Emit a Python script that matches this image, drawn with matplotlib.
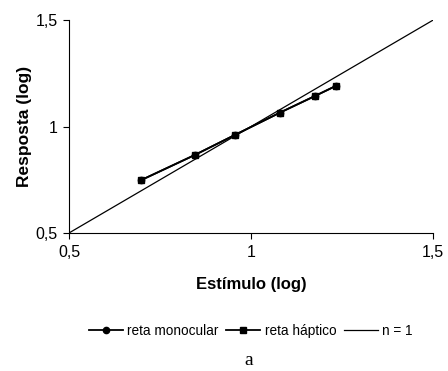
import numpy as np
import matplotlib
matplotlib.use('Agg')
from matplotlib import pyplot as plt

plt.rcParams['font.family'] = ['Liberation Sans', 'DejaVu Sans']

# data
estimulo = [0.699, 0.845, 0.955, 1.079, 1.175, 1.232]
resp_monocular = [0.749, 0.866, 0.960, 1.065, 1.143, 1.190]
resp_haptico = [0.749, 0.866, 0.960, 1.065, 1.143, 1.190]
ident = [0.5, 1.5]
ticks = [0.5, 1, 1.5]
tick_labels = ['0,5', '1', '1,5']

fig = plt.figure(figsize=(4.48, 3.71), dpi=100)
ax = fig.add_axes([0.154, 0.372, 0.813, 0.574])

ax.plot(estimulo, resp_monocular, '-o', color='black', lw=1.3, ms=4.5, label='reta monocular')
ax.plot(estimulo, resp_haptico, '-s', color='black', lw=1.3, ms=5, label='reta háptico')
ax.plot(ident, ident, '-', color='black', lw=0.9, label='n = 1')

ax.set_xlim(0.5, 1.5)
ax.set_ylim(0.5, 1.5)
ax.set_xticks(ticks)
ax.set_xticklabels(tick_labels)
ax.set_yticks(ticks)
ax.set_yticklabels(tick_labels)
ax.tick_params(direction='out', length=4, width=0.8, labelsize=11.5, colors='black')
ax.tick_params(axis='x', pad=5)
ax.tick_params(axis='y', pad=4)
ax.spines['top'].set_visible(False)
ax.spines['right'].set_visible(False)
for s in ['left', 'bottom']:
    ax.spines[s].set_linewidth(0.8)

ax.set_xlabel('Estímulo (log)', fontsize=12, fontweight='bold')
ax.set_ylabel('Resposta (log)', fontsize=12.5, fontweight='bold')
ax.xaxis.set_label_coords(0.5, -0.244)
ax.xaxis.label.set_va('center')
ax.yaxis.set_label_coords(-0.121, 0.5)
ax.yaxis.label.set_va('center')

fig.legend(loc='center', bbox_to_anchor=(0.56, 0.108), ncol=3, frameon=False,
           fontsize=9.8, handlelength=2.5, handletextpad=0.3, columnspacing=0.6)
fig.text(0.556, 0.015, 'a', fontsize=14, family='Liberation Serif', ha='center')

plt.savefig('out.png', dpi=100)
